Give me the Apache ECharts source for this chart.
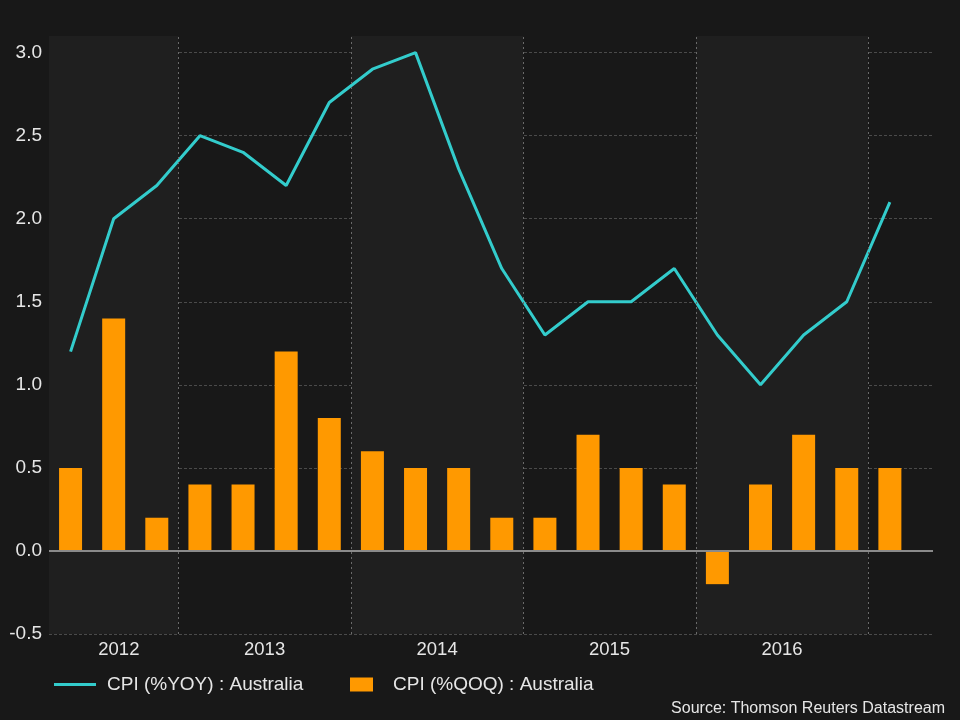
<!DOCTYPE html>
<html>
<head>
<meta charset="utf-8">
<script src="https://cdn.jsdelivr.net/npm/echarts@6/dist/echarts.min.js"></script>
<style>html,body{margin:0;padding:0;background:#181818;}#c{width:960px;height:720px;}</style>
</head>
<body>
<div id="c"></div>
<script>
var quarters = ['2012Q2','2012Q3','2012Q4','2013Q1','2013Q2','2013Q3','2013Q4','2014Q1','2014Q2','2014Q3','2014Q4','2015Q1','2015Q2','2015Q3','2015Q4','2016Q1','2016Q2','2016Q3','2016Q4','2017Q1'];
var cpiYoy = [1.2,2.0,2.2,2.5,2.4,2.2,2.7,2.9,3.0,2.3,1.7,1.3,1.5,1.5,1.7,1.3,1.0,1.3,1.5,2.1];
var cpiQoq = [0.5,1.4,0.2,0.4,0.4,1.2,0.8,0.6,0.5,0.5,0.2,0.2,0.7,0.5,0.4,-0.2,0.4,0.7,0.5,0.5];
var yearLabels = ['2012','2013','2014','2015','2016'];
var yTicks = ['-0.5','0.0','0.5','1.0','1.5','2.0','2.5','3.0'];
var seriesNames = ['CPI (%YOY) : Australia','CPI (%QOQ) : Australia'];
var sourceText = 'Source: Thomson Reuters Datastream';

// year boundaries (between Q4 and Q1) and year label positions derived from quarters
var boundaries = [];
for (var i = 1; i < quarters.length; i++) {
  if (quarters[i].slice(0,4) !== quarters[i-1].slice(0,4)) boundaries.push(i - 0.5);
}
var labelPos = yearLabels.map(function (y) {
  var idx = [];
  quarters.forEach(function (q, i) { if (q.slice(0,4) === y) idx.push(i); });
  var m = idx.reduce(function (a, b) { return a + b; }, 0) / idx.length;
  return idx.length < 4 ? m + 0.12 : m;
});
var bands = [];
var edges = [-0.5].concat(boundaries).concat([20.0]);
for (var k = 0; k < edges.length - 1; k += 2) {
  bands.push([{ xAxis: edges[k] }, { xAxis: edges[k + 1] }]);
}

var font = 'Liberation Sans, Arial, sans-serif';
var txt = '#e6e6e6';

var option = {
  backgroundColor: '#181818',
  animation: false,
  textStyle: { fontFamily: font },
  grid: { left: 49, right: 27, top: 36, bottom: 86 },
  xAxis: {
    type: 'value', min: -0.5, max: 20.0,
    axisLine: { show: false }, axisTick: { show: false },
    splitLine: { show: false },
    axisLabel: {
      customValues: labelPos,
      color: txt, fontSize: 18.5, fontFamily: font, margin: 6,
      formatter: function (v) {
        var best = 0, d = 1e9;
        labelPos.forEach(function (p, j) { if (Math.abs(p - v) < d) { d = Math.abs(p - v); best = j; } });
        return yearLabels[best];
      }
    }
  },
  yAxis: {
    type: 'value', min: -0.5, max: 3.1, interval: 0.5,
    axisLine: { show: false }, axisTick: { show: false },
    splitLine: { show: true, showMaxLine: false, lineStyle: { color: '#4a4a4a', type: [3, 2], width: 1 } },
    axisLabel: {
      color: txt, fontSize: 19, fontFamily: font, margin: 7, showMaxLabel: false,
      formatter: function (v) {
        var s = v.toFixed(1);
        return yTicks.indexOf(s) >= 0 && Math.abs(v * 2 - Math.round(v * 2)) < 1e-6 ? s : '';
      }
    }
  },
  legend: [
    {
      data: [{ name: seriesNames[0], icon: 'rect' }],
      left: 49, top: 670, itemWidth: 42, itemHeight: 3,
      textStyle: { color: txt, fontSize: 19, fontFamily: font, padding: [0, 0, 0, 6] },
      selectedMode: false
    },
    {
      data: [{ name: seriesNames[1], icon: 'rect' }],
      left: 345, top: 670, itemWidth: 23, itemHeight: 14,
      textStyle: { color: txt, fontSize: 19, fontFamily: font, padding: [0, 0, 0, 15] },
      selectedMode: false
    }
  ],
  graphic: [{
    type: 'text', right: 15, bottom: 3,
    style: { text: sourceText, fill: txt, fontSize: 16, fontFamily: font }
  }],
  series: [
    {
      name: seriesNames[1], type: 'bar', barWidth: 23,
      itemStyle: { color: '#ff9900' },
      data: cpiQoq.map(function (v, i) { return [i, v]; }),
      z: 3,
      markArea: {
        silent: true,
        itemStyle: { color: '#1f1f1f' },
        data: bands
      }
    },
    {
      name: seriesNames[0], type: 'line', showSymbol: false, symbol: 'none',
      lineStyle: { color: '#33cccc', width: 3 },
      itemStyle: { color: '#33cccc' },
      data: cpiYoy.map(function (v, i) { return [i, v]; }),
      z: 4,
      markLine: {
        silent: true, symbol: 'none', label: { show: false },
        data: boundaries.map(function (b) {
          return { xAxis: b, lineStyle: { color: '#6a6a6a', type: [2, 3], width: 1 } };
        }).concat([{ yAxis: 0, lineStyle: { color: '#8a8a8a', type: 'solid', width: 2 } }])
      }
    }
  ]
};
var chart = echarts.init(document.getElementById('c'), null, { renderer: 'canvas' });
chart.setOption(option);
</script>
</body>
</html>
